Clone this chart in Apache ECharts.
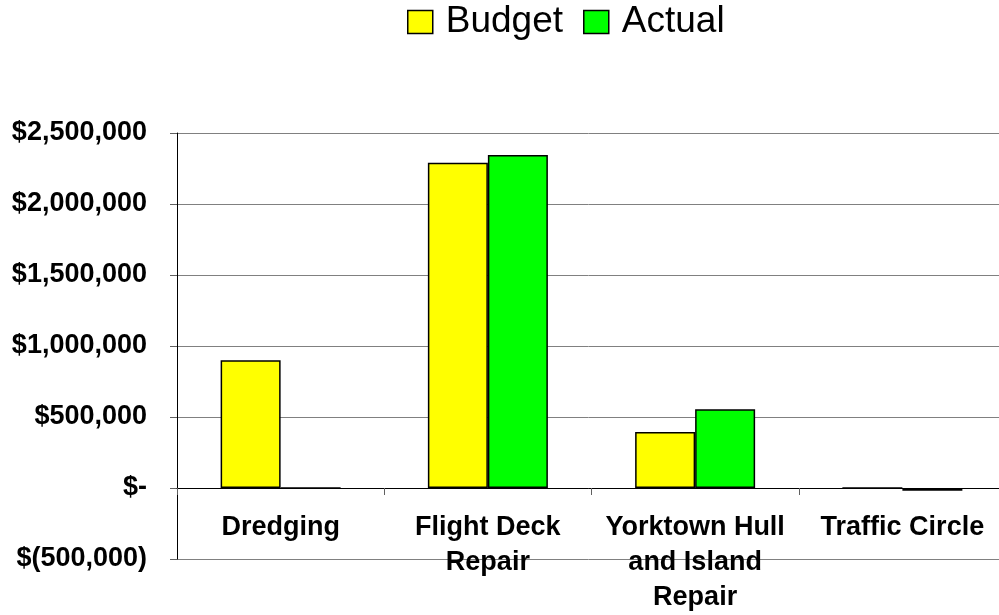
<!DOCTYPE html>
<html>
<head>
<meta charset="utf-8">
<script src="https://cdn.jsdelivr.net/npm/echarts@6/dist/echarts.min.js"></script>
<style>
  html, body { margin: 0; padding: 0; background: #fff; }
  #chart { width: 999px; height: 615px; }
</style>
</head>
<body>
<div id="chart"></div>
<script>
// Project cost categories (line breaks as shown under the axis)
const categories = ['Dredging', 'Flight Deck\nRepair', 'Yorktown Hull\nand Island\nRepair', 'Traffic Circle'];
const budgetValues = [900000, 2290000, 395000, 0];
const actualValues = [0, 2345000, 555000, -20000];

// Value axis range and its tick labels (accounting style)
const yMin = -500000;
const yMax = 2500000;
const yStep = 500000;
const yTickLabels = ['$(500,000)', '$-', '$500,000', '$1,000,000', '$1,500,000', '$2,000,000', '$2,500,000'];

const FONT = "'Liberation Sans', Arial, sans-serif";

const chart = echarts.init(document.getElementById('chart'), null, { renderer: 'canvas' });

const barStyle = (color) => ({
  color: color,
  borderColor: '#000',
  borderWidth: 1.5
});

chart.setOption({
  animation: false,
  backgroundColor: '#fff',
  legend: {
    left: 402,
    top: -2,
    itemWidth: 25,
    itemHeight: 23,
    itemGap: 20,
    icon: 'rect',
    itemStyle: { borderColor: '#000', borderWidth: 1.5 },
    textStyle: {
      fontFamily: FONT,
      fontSize: 37,
      color: '#000',
      lineHeight: 38,
      padding: [0, 0, 0, 8]
    },
    data: ['Budget', 'Actual']
  },
  grid: {
    left: 177,
    right: -7,
    top: 133,
    bottom: 56,
    containLabel: false,
    outerBoundsMode: 'none'
  },
  xAxis: {
    type: 'category',
    data: categories,
    axisLine: { onZero: true, lineStyle: { color: '#000', width: 1 } },
    axisTick: { show: true, length: 7, lineStyle: { color: '#606060', width: 1 } },
    axisLabel: {
      interval: 0,
      // labels sit just under the zero line, overlapping the lower grid band
      margin: -49,
      fontFamily: FONT,
      fontSize: 27,
      fontWeight: 'bold',
      color: '#000',
      lineHeight: 35,
      align: 'center'
    },
    z: 5
  },
  yAxis: {
    type: 'value',
    min: yMin,
    max: yMax,
    interval: yStep,
    axisLine: { show: true, lineStyle: { color: '#000', width: 1 } },
    axisTick: { show: true, length: 7, lineStyle: { color: '#606060', width: 1 } },
    splitLine: { show: true, lineStyle: { color: '#808080', width: 1 } },
    axisLabel: {
      margin: 30,
      fontFamily: FONT,
      fontSize: 27,
      fontWeight: 'bold',
      color: '#000',
      formatter: (v) => yTickLabels[Math.round((v - yMin) / yStep)]
    }
  },
  series: [
    {
      name: 'Budget',
      type: 'bar',
      data: budgetValues,
      barWidth: 60,
      barGap: '0%',
      itemStyle: barStyle('#ffff00')
    },
    {
      name: 'Actual',
      type: 'bar',
      data: actualValues,
      barWidth: 60,
      barGap: '0%',
      itemStyle: barStyle('#00ff00')
    }
  ]
});
</script>
</body>
</html>
